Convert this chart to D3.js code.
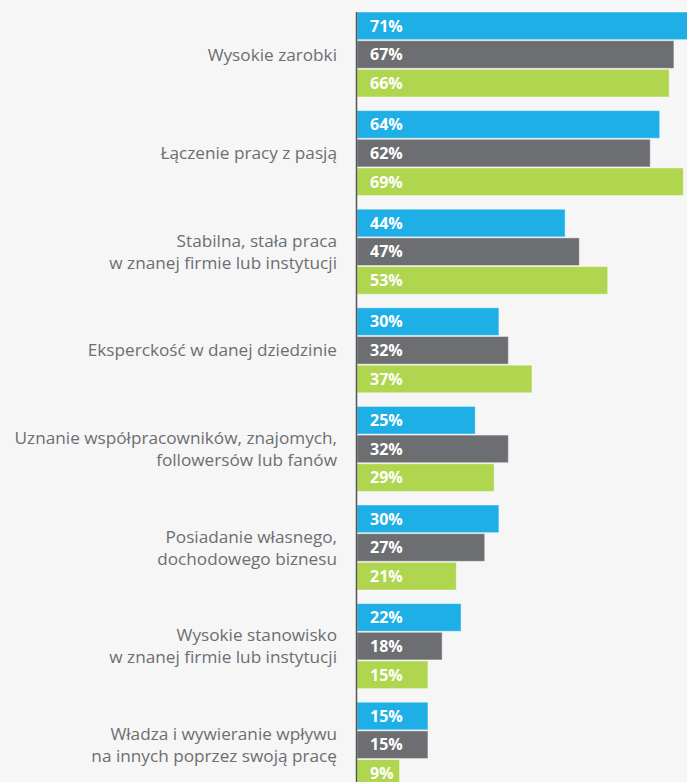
<!DOCTYPE html>
<html>
<head>
<meta charset="utf-8">
<script src="https://cdn.jsdelivr.net/npm/d3@7"></script>
<style>
  html, body { margin: 0; padding: 0; background: #f6f6f6; }
  svg { display: block; }
</style>
</head>
<body>
<div id="chart"></div>
<script>
// categories, each one split into the lines shown on the left
var categories = [
    ["Wysokie zarobki"],
    ["Łączenie pracy z pasją"],
    ["Stabilna, stała praca", "w znanej firmie lub instytucji"],
    ["Eksperckość w danej dziedzinie"],
    ["Uznanie współpracowników, znajomych,", "followersów lub fanów"],
    ["Posiadanie własnego,", "dochodowego biznesu"],
    ["Wysokie stanowisko", "w znanej firmie lub instytucji"],
    ["Władza i wywieranie wpływu", "na innych poprzez swoją pracę"]
];
// three series, values in percent
var seriesKeys = ["blue", "gray", "green"];
var valuesBlue = [71, 64, 44, 30, 25, 30, 22, 15];
var valuesGray = [67, 62, 47, 32, 32, 27, 18, 15];
var valuesGreen = [66, 69, 53, 37, 29, 21, 15, 9];
var colors = ["#1eafe6", "#6d6e72", "#b0d64f"];

var width = 687, height = 782;
var axisX = 357;

var svg = d3.select("#chart").append("svg")
    .attr("width", width).attr("height", height);

//table built from the arrays above
var data = categories.map(function (c, i) {
    return {key: i, lines: c, values: [valuesBlue[i], valuesGray[i], valuesGreen[i]]};
});

var y0 = d3.scaleBand()
    .domain(data.map(function (d) { return d.key; }))
    .range([12, 12 + 8 * 98.6 - 13.6])
    .paddingInner(0.138)
    .paddingOuter(0);

var y1 = d3.scaleBand()
    .domain(seriesKeys)
    .range([0, y0.bandwidth()])
    .paddingInner(0.035);

var x = d3.scaleLinear().domain([0, 100]).range([axisX, axisX + 473]);
var z = d3.scaleOrdinal().domain(seriesKeys).range(colors);

var group = svg.selectAll(".group")
    .data(data)
    .enter().append("g")
    .attr("class", "group")
    .attr("transform", function (d) { return "translate(0," + y0(d.key) + ")"; });

var bar = group.selectAll(".bar")
    .data(function (d) {
        return seriesKeys.map(function (k, j) { return {key: k, value: d.values[j]}; });
    })
    .enter().append("g").attr("class", "bar");

bar.append("rect")
    .attr("x", x(0))
    .attr("y", function (d) { return y1(d.key); })
    .attr("width", function (d) { return x(d.value) - x(0); })
    .attr("height", y1.bandwidth())
    .attr("fill", function (d) { return z(d.key); })
    .attr("stroke", "rgba(255,255,255,0.45)")
    .attr("stroke-width", 1);

bar.append("text")
    .attr("x", x(0) + 13)
    .attr("y", function (d) { return y1(d.key) + y1.bandwidth() / 2; })
    .attr("dy", "0.36em")
    .attr("fill", "#ffffff")
    .attr("font-family", "'Open Sans', sans-serif")
    .attr("font-weight", 700)
    .attr("font-size", "16px")
    .text(function (d) { return d.value + "%"; });

//category labels, centered on the middle bar of each group
var lineHeight = 22;
group.append("text")
    .attr("text-anchor", "end")
    .attr("fill", "#6d6e71")
    .attr("font-family", "'Open Sans', sans-serif")
    .attr("font-size", "17.2px")
    .each(function (d) {
        var t = d3.select(this);
        var mid = y1("gray") + y1.bandwidth() / 2;
        var start = mid - (d.lines.length - 1) * lineHeight / 2;
        d.lines.forEach(function (line, k) {
            t.append("tspan")
                .attr("x", 337)
                .attr("y", start + k * lineHeight)
                .attr("dy", "0.35em")
                .text(line);
        });
    });

// vertical axis line
svg.append("line")
    .attr("x1", axisX - 0.5).attr("x2", axisX - 0.5)
    .attr("y1", 12).attr("y2", height)
    .attr("stroke", "#555555")
    .attr("stroke-width", 1.5);
</script>
</body>
</html>
